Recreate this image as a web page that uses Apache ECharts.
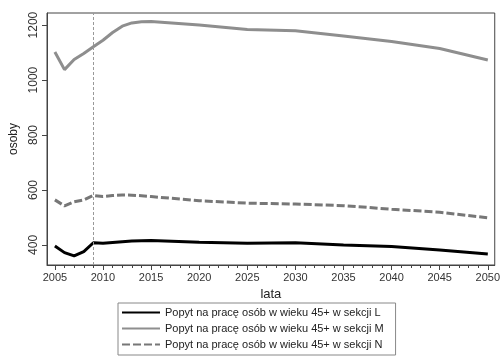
<!DOCTYPE html>
<html><head><meta charset="utf-8">
<script src="https://cdn.jsdelivr.net/npm/echarts@6/dist/echarts.min.js"></script>
<style>html,body{margin:0;padding:0;background:#fff}#c{width:503px;height:360px}</style>
</head><body><div id="c"></div>
<script>
const years = [2005,2006,2007,2008,2009,2010,2011,2012,2013,2014,2015,2020,2025,2030,2035,2040,2045,2050];
const seriesL = [396,372,360,376,408,406,409,412,414,415,416,410,406,408,400,394,382,367];
const seriesM = [1102,1038,1075,1097,1121,1145,1173,1196,1208,1212,1213,1200,1184,1179,1160,1140,1115,1073];
const seriesN = [564,542,557,564,580,576,580,582,581,579,576,561,552,549,543,530,519,499];
const namesLegend = ['Popyt na pracę osób w wieku 45+ w sekcji L','Popyt na pracę osób w wieku 45+ w sekcji M','Popyt na pracę osób w wieku 45+ w sekcji N'];
const xTickLabels = [2005,2010,2015,2020,2025,2030,2035,2040,2045,2050];
const yTickLabels = [400,600,800,1000,1200];
const allYears = []; for (let y = 2005; y <= 2050; y++) allYears.push(y);
const markYear = 2009;

const pair = arr => years.map((y,i)=>[y,arr[i]]);
const font = 'Liberation Sans, Arial, sans-serif';
const chart = echarts.init(document.getElementById('c'), null, {renderer:'canvas'});
chart.setOption({
  backgroundColor:'#fff',
  animation:false,
  grid:{left:44,right:5,top:13,bottom:95,show:true,borderColor:'#444',borderWidth:1},
  xAxis:[{
    type:'value',min:2004.18,max:2050.72,
    name:'lata',nameLocation:'middle',nameGap:22,
    nameTextStyle:{fontFamily:font,fontSize:13,color:'#222'},
    axisLine:{show:true,lineStyle:{color:'#444'}},
    axisTick:{show:true,length:5,customValues:xTickLabels,lineStyle:{color:'#444'}},
    axisLabel:{customValues:xTickLabels,formatter:v=>String(v),fontFamily:font,fontSize:11,color:'#333',margin:7},
    splitLine:{show:false}
  },{
    type:'value',min:2004.18,max:2050.72,position:'bottom',
    axisLine:{show:false},
    axisTick:{show:true,length:3,customValues:allYears,lineStyle:{color:'#444'}},
    axisLabel:{show:false},splitLine:{show:false}
  }],
  yAxis:{
    type:'value',min:327,max:1244,
    name:'osoby',nameLocation:'middle',nameGap:27,nameRotate:90,
    nameTextStyle:{fontFamily:font,fontSize:12,color:'#222'},
    axisLine:{show:true,lineStyle:{color:'#444'}},
    axisTick:{show:true,length:5,customValues:yTickLabels,lineStyle:{color:'#444'}},
    axisLabel:{customValues:yTickLabels,formatter:v=>String(v),rotate:90,fontFamily:font,fontSize:12,color:'#333',margin:7},
    splitLine:{show:false}
  },
  legend:{
    orient:'vertical',left:118,top:303,
    padding:[4,12,5,3],itemGap:5,itemWidth:38,itemHeight:12,
    borderColor:'#888',borderWidth:1,
    itemStyle:{opacity:0},
    textStyle:{fontFamily:font,fontSize:11,color:'#222'},
    data:namesLegend.map(n=>({name:n}))
  },
  series:[
    {name:namesLegend[0],type:'line',data:pair(seriesL),symbol:'none',lineStyle:{color:'#000',width:3},itemStyle:{color:'#000'},
     markLine:{silent:true,symbol:'none',label:{show:false},lineStyle:{color:'#999',type:[3,2],width:1},data:[{xAxis:markYear}]}},
    {name:namesLegend[1],type:'line',data:pair(seriesM),symbol:'none',lineStyle:{color:'#8e8e8e',width:3},itemStyle:{color:'#8e8e8e'}},
    {name:namesLegend[2],type:'line',data:pair(seriesN),symbol:'none',lineStyle:{color:'#777',width:3,type:[8,3]},itemStyle:{color:'#777'}}
  ]
});
</script></body></html>
